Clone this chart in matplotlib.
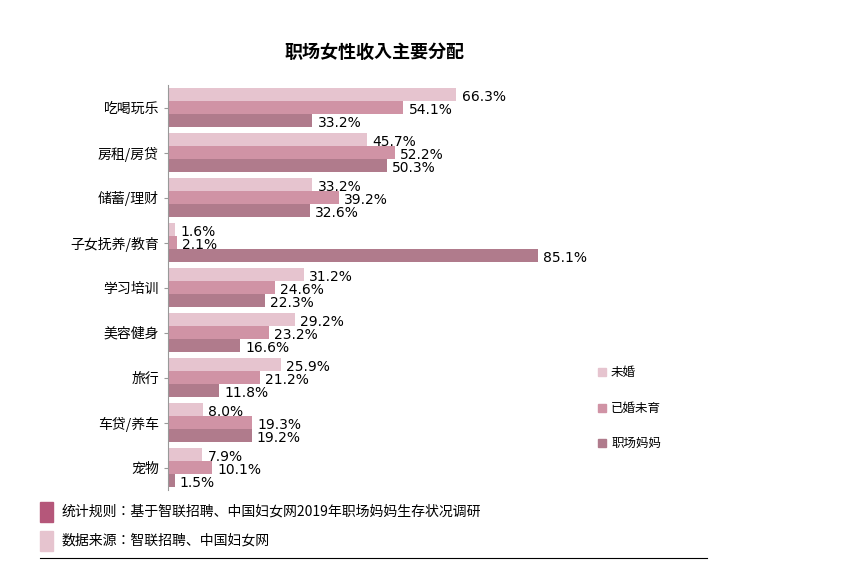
import matplotlib
matplotlib.use("Agg")
import matplotlib.pyplot as plt
from matplotlib import font_manager as fm
import numpy as np

cjk_name = None
for f in fm.findSystemFonts():
    if 'CJK' in f and ('SC' in f or 'ttc' in f.lower()):
        try:
            fm.fontManager.addfont(f)
            cjk_name = fm.FontProperties(fname=f).get_name()
            if 'SC' in cjk_name or cjk_name.endswith('JP') or cjk_name:
                break
        except Exception:
            pass
fams = [n for n in ['Noto Sans CJK SC', cjk_name] if n]
plt.rcParams['font.family'] = fams + ['DejaVu Sans']
plt.rcParams['font.sans-serif'] = fams + ['DejaVu Sans']

categories = ["吃喝玩乐", "房租/房贷", "储蓄/理财", "子女抚养/教育", "学习培训", "美容健身", "旅行", "车贷/养车", "宠物"]
series_names = ["未婚", "已婚未育", "职场妈妈"]
unmarried = [66.3, 45.7, 33.2, 1.6, 31.2, 29.2, 25.9, 8.0, 7.9]
married_no_kid = [54.1, 52.2, 39.2, 2.1, 24.6, 23.2, 21.2, 19.3, 10.1]
mothers = [33.2, 50.3, 32.6, 85.1, 22.3, 16.6, 11.8, 19.2, 1.5]
colors = ["#e6c4cf", "#d093a5", "#b07b8c"]

W, H = 848, 583
fig = plt.figure(figsize=(W/100, H/100), dpi=100)
ax = fig.add_axes([168/W, 1-490/H, 435/W, 405/H])

n = len(categories)
y = np.arange(n)
bh = 0.29
for i, (vals, c) in enumerate(zip([unmarried, married_no_kid, mothers], colors)):
    pos = y + (i-1)*bh
    ax.barh(pos, vals, height=bh, color=c, label=series_names[i])
    for p, v in zip(pos, vals):
        ax.text(v + 1.2, p + 0.05, f"{v:.1f}%", va='center', ha='left', fontsize=10, family='DejaVu Sans')

ax.set_ylim(n-0.5, -0.5)
ax.set_xlim(0, 100)
ax.set_yticks(y)
ax.set_yticklabels(categories, fontsize=10)
ax.set_xticks([])
for s in ['top', 'right', 'bottom']:
    ax.spines[s].set_visible(False)
ax.spines['left'].set_color('#999999')
ax.tick_params(axis='y', length=3, color='#999999')

fig.text(375/W, 1-52/H, "职场女性收入主要分配", ha='center', va='center', fontsize=13, weight='bold')

for yy, name, c in zip([372, 408, 443], series_names, colors):
    fig.patches.append(matplotlib.patches.Rectangle((598/W, 1-(yy+4)/H), 8/W, 8/H, color=c, transform=fig.transFigure))
    fig.text(611/W, 1-yy/H, name, va='center', fontsize=9)

for yy, txt, c in [(512, "统计规则：基于智联招聘、中国妇女网2019年职场妈妈生存状况调研", "#b5577a"),
                   (541, "数据来源：智联招聘、中国妇女网", "#e6c4cf")]:
    fig.patches.append(matplotlib.patches.Rectangle((40/W, 1-(yy+10)/H), 13/W, 20/H, color=c, transform=fig.transFigure))
    fig.text(62/W, 1-yy/H, txt, va='center', fontsize=10)

fig.lines.append(matplotlib.lines.Line2D([40/W, 707/W], [1-558/H, 1-558/H], color='black', lw=0.8, transform=fig.transFigure))

fig.savefig("out.png", dpi=100)
